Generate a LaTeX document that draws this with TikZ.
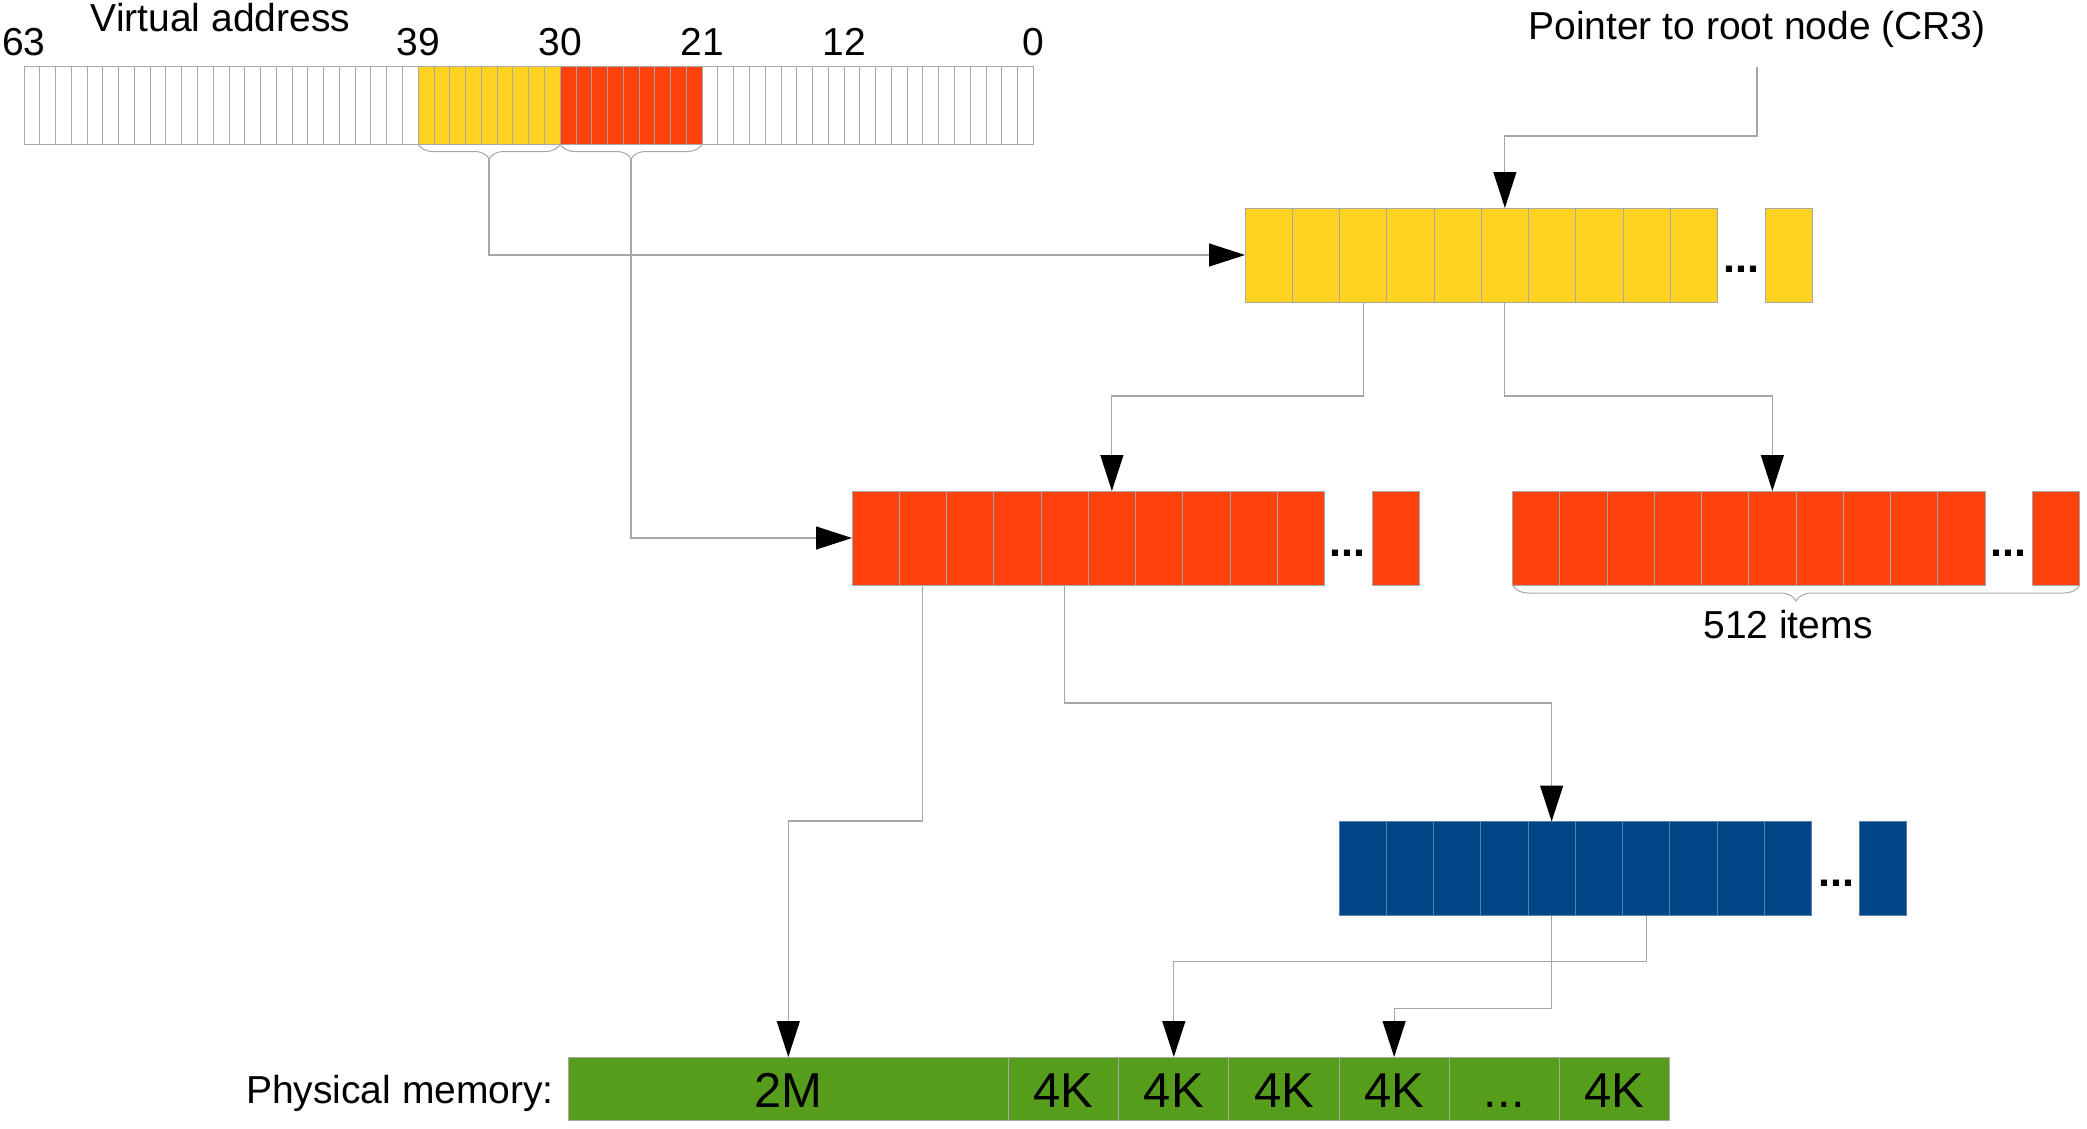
\documentclass[tikz,border=0pt]{standalone}
\usepackage{fontspec}
\setmainfont{Liberation Sans}
\usetikzlibrary{arrows.meta,decorations.pathreplacing}
\definecolor{lyellow}{HTML}{FFD320}
\definecolor{lred}{HTML}{FF420E}
\definecolor{lblue}{HTML}{004586}
\definecolor{lgreen}{HTML}{579D1C}
\definecolor{edgegray}{HTML}{A8A8A8}
\definecolor{linegray}{HTML}{A6A6A6}
\definecolor{blueedge}{HTML}{5A82B0}
\begin{document}
\begin{tikzpicture}[x=1pt,y=-1pt,
  lbl/.style={font=\fontsize{39pt}{44pt}\selectfont, inner sep=0pt},
  plbl/.style={font=\fontsize{49pt}{54pt}\selectfont},
  ellip/.style={font=\fontsize{43pt}{46pt}\selectfont\bfseries, inner sep=0pt, anchor=base},
  vcell/.style={draw=edgegray, line width=0.9pt, fill=white, minimum width=15.77pt, minimum height=78pt, inner sep=0pt, outer sep=0pt},
  tcell/.style={draw=edgegray, line width=0.9pt, minimum width=47.25pt, minimum height=94pt, inner sep=0pt, outer sep=0pt},
  pcell/.style={draw=edgegray, line width=0.9pt, fill=lgreen, minimum width=110.15pt, minimum height=63pt, inner sep=0pt, outer sep=0pt, text height=37pt, text depth=0pt, plbl},
  conn/.style={draw=linegray, line width=1.2pt},
  arr/.style={conn, -{Triangle[length=36pt,width=23pt,color=black]}},
  brace/.style={draw=linegray, line width=1pt, decorate, decoration={brace, amplitude=15pt}}
]
\useasboundingbox (0,0) rectangle (2087,1129);

% ---------- virtual address ----------
\node[lbl, anchor=base] (vatitle) at (220.5,32) {Virtual address};
\foreach \i in {0,...,24}{\node[vcell] (va\i) at ({24+(\i+0.5)*15.77},105) {};}
\foreach \i in {43,...,63}{\node[vcell] (va\i) at ({24+(\i+0.5)*15.77},105) {};}
\foreach \i in {25,...,33}{\node[vcell, fill=lyellow] (va\i) at ({24+(\i+0.5)*15.77},105) {};}
\foreach \i in {34,...,42}{\node[vcell, fill=lred] (va\i) at ({24+(\i+0.5)*15.77},105) {};}

\node[lbl, anchor=base] (b63) at (24,56) {63};
\node[lbl, anchor=base] (b39) at (418,56) {39};
\node[lbl, anchor=base] (b30) at (560,56) {30};
\node[lbl, anchor=base] (b21) at (702,56) {21};
\node[lbl, anchor=base] (b12) at (844,56) {12};
\node[lbl, anchor=base] (b0) at (1033,56) {0};

\draw[brace] (va33.south east) -- (va25.south west);
\draw[brace] (va42.south east) -- (va34.south west);
\coordinate (ybt) at (489,159);
\coordinate (rbt) at (631,159);

% ---------- CR3 ----------
\node[lbl, anchor=base] (cr3) at (1757,40) {Pointer to root node (CR3)};
\coordinate (cr3p) at (1757,67);

% ---------- yellow table ----------
\foreach \i in {0,...,9}{\node[tcell, fill=lyellow] (yc\i) at ({1245+(\i+0.5)*47.25},255) {};}
\node[tcell, fill=lyellow] (ycl) at (1788.6,255) {};
\node[ellip] (yd) at (1741,272) {...};

% ---------- red tables ----------
\foreach \i in {0,...,9}{\node[tcell, fill=lred] (ra\i) at ({852+(\i+0.5)*47.25},538) {};}
\node[tcell, fill=lred] (ral) at (1395.6,538) {};
\node[ellip] (rad) at (1347,556) {...};

\foreach \i in {0,...,9}{\node[tcell, fill=lred] (rb\i) at ({1512.5+(\i+0.5)*47.25},538) {};}
\node[tcell, fill=lred] (rbl) at (2056.1,538) {};
\node[ellip] (rbd) at (2008.5,556) {...};

\draw[brace, decoration={brace, amplitude=16pt}] (rbl.south east) -- (rb0.south west);
\node[lbl, anchor=base] (items) at (1788,638) {512 items};

% ---------- blue table ----------
\foreach \i in {0,...,9}{\node[tcell, fill=lblue, draw=blueedge] (bc\i) at ({1339+(\i+0.5)*47.25},868.5) {};}
\node[tcell, fill=lblue, draw=blueedge] (bcl) at (1883.1,868.5) {};
\node[ellip] (bcd) at (1836,886) {...};

% ---------- physical memory ----------
\node[lbl, anchor=base east] (pmlbl) at (554,1103) {Physical memory:};
\node[pcell, minimum width=440.6pt] (pm2M) at (788.3,1088.5) {2M};
\node[pcell] (pk0) at ({1008.6+0.5*110.15},1088.5) {4K};
\node[pcell] (pk1) at ({1008.6+1.5*110.15},1088.5) {4K};
\node[pcell] (pk2) at ({1008.6+2.5*110.15},1088.5) {4K};
\node[pcell] (pk3) at ({1008.6+3.5*110.15},1088.5) {4K};
\node[pcell] (pk4) at ({1008.6+4.5*110.15},1088.5) {...};
\node[pcell] (pk5) at ({1008.6+5.5*110.15},1088.5) {4K};

% ---------- connectors ----------
\draw[arr] (ybt) |- (yc0.west);
\draw[arr] (rbt) |- (ra0.west);
\draw[arr] (cr3p) -- ++(0,69) -| (yc5.north);
\draw[arr] (yc2.south) -- ++(0,94) -| (ra5.north);
\draw[arr] (yc5.south) -- ++(0,94) -| (rb5.north);
\draw[arr] (ra1.south) -- ++(0,236) -| (pm2M.north);
\draw[arr] (ra4.south) -- ++(0,118) -| (bc4.north);
\draw[arr] (bc6.south) -- ++(0,46) -| (pk1.north);
\draw[arr] (bc4.south) -- ++(0,93) -| (pk3.north);
\end{tikzpicture}
\end{document}
